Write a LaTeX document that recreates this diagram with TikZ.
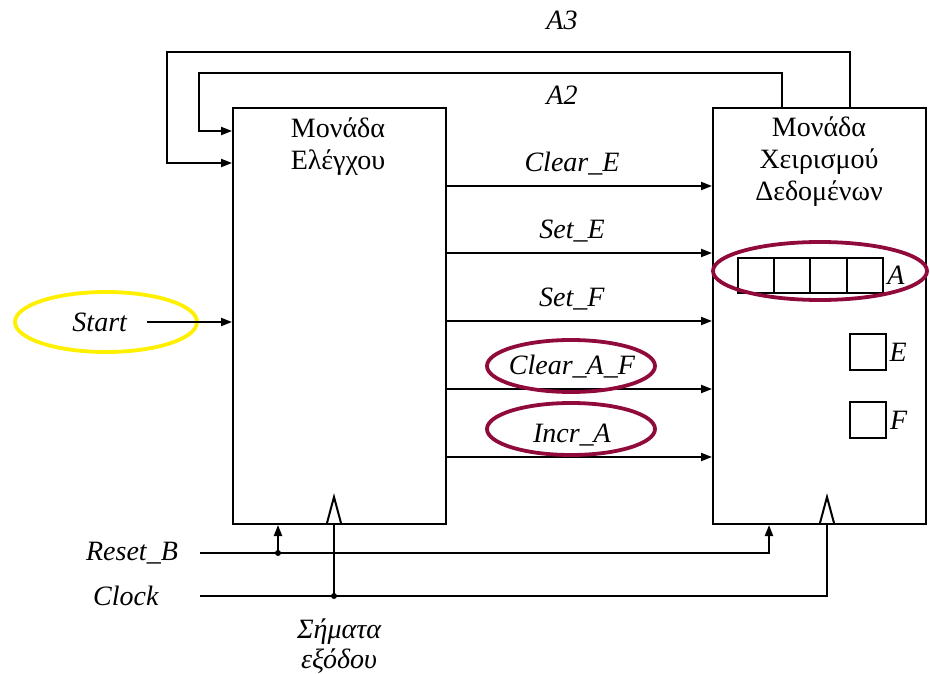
\documentclass[tikz,border=0pt]{standalone}
\usepackage{fontspec}
\setmainfont{Liberation Serif}
\usetikzlibrary{arrows.meta,calc,shapes.geometric}
\definecolor{wine}{RGB}{145,10,60}
\definecolor{hiyel}{RGB}{255,240,0}
\tikzset{>={Triangle[length=11pt,width=8pt]},every node/.style={font=\fontsize{28}{32}\selectfont},
  unit/.style={draw,line width=2pt,minimum width=213pt,minimum height=416pt,anchor=north west},
  wire/.style={line width=2pt},sig/.style={wire,->},
  cell/.style={draw,line width=2pt,minimum width=36.3pt,minimum height=35pt,inner sep=0pt},
  ring/.style={ellipse,draw=#1,line width=3.8pt,inner sep=0pt}}

\begin{document}
\begin{tikzpicture}[x=1pt,y=-1pt]
\useasboundingbox (0,0) rectangle (930,674);
\node[unit] (ctrl) at (232,107) {};\node[unit] (dp) at (712,107) {};
\node[align=center] (ctrltxt) at (338,147) {Μονάδα\\Ελέγχου};
\node[align=center] (dptxt) at (819,162) {Μονάδα\\Χειρισμού\\Δεδομένων};
% feedback loops
\draw[sig] (dp.north -| 850,0) |- (167,52) |- (ctrl.west |- 0,163);
\draw[sig] (dp.north -| 782,0) |- (199,73) |- (ctrl.west |- 0,131);
\node (a3) at (562,20) {\textit{A3}};\node (a2) at (562,95) {\textit{A2}};
% control signals
\foreach \nm/\yy [count=\i] in {Clear\_E/186,Set\_E/253,Set\_F/321,Clear\_A\_F/389,Incr\_A/457}{
  \draw[sig] (ctrl.east |- 0,\yy) -- (dp.west |- 0,\yy);
  \node (sig\i) at (572,\yy-22) {\textit{\nm}};}
\node[ring=wine,minimum width=168pt,minimum height=52pt] (hl4) at (571,366) {};
\node[ring=wine,minimum width=168pt,minimum height=52pt] (hl5) at (571,429) {};
% registers
\foreach \i in {1,...,4}{\node[cell] (a\i) at (756+36.3*\i-36.3,275.5) {};}
\node[anchor=west,inner sep=3pt] (alab) at (a4.east) {\textit{A}};
\node[cell,minimum width=36pt,minimum height=36pt] (e) at (867.5,352) {};\node[anchor=west,inner sep=3pt] (elab) at (e.east) {\textit{E}};
\node[cell,minimum width=36pt,minimum height=36pt] (f) at (868,420) {};\node[anchor=west,inner sep=3pt] (flab) at (f.east) {\textit{F}};
\node[ring=wine,minimum width=214pt,minimum height=58pt] (hla) at (820,271) {};
% start input
\node (start) at (100,322) {\textit{Start}};
\node[ring=hiyel,minimum width=182pt,minimum height=60pt] (hls) at (106,322) {};
\draw[sig] ([xshift=16pt]start.east) -- (ctrl.west |- start);
% reset and clock
\node (rstlab) at (132,553) {\textit{Reset\_B}};\node (clklab) at (126,596) {\textit{Clock}};
\coordinate (rst) at (200,553);\coordinate (clk) at (200,596);
\coordinate (rj) at (278,553);\coordinate (cj) at (334,596);
\draw[sig] (rst) -| (dp.south -| 769,0);\draw[sig] (rj) -- (ctrl.south -| rj);
\draw[wire] (clk) -| (dp.south -| 827,0);\draw[wire] (cj) -- (ctrl.south -| cj);
\fill (rj) circle(3pt);\fill (cj) circle(3pt);
\draw[wire] (327,523) -- (334,497) -- (341,523);\draw[wire] (820,523) -- (827,497) -- (834,523);
\node[align=center,font=\fontsize{28}{30}\selectfont\itshape] (outlab) at (339,646) {Σήματα\\εξόδου};
\end{tikzpicture}
\end{document}
